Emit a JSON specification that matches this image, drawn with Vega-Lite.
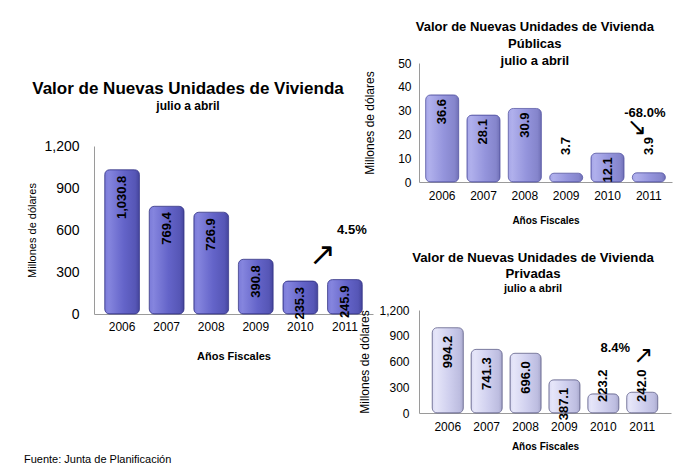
{
  "$schema": "https://vega.github.io/schema/vega-lite/v6.json",
  "background": "white",
  "padding": {"left": 23, "top": 21, "right": 2, "bottom": 4},
  "config": {
    "font": "Liberation Sans",
    "view": {"stroke": null},
    "title": {"font": "Liberation Sans", "fontWeight": "bold", "color": "black", "subtitleColor": "black", "subtitleFont": "Liberation Sans"},
    "axis": {"labelFont": "Liberation Sans", "titleFont": "Liberation Sans", "labelColor": "black", "titleColor": "black", "ticks": false, "grid": false, "domainColor": "#9a9a9a"}
  },
  "datasets": {
    "total": [
      {"year": "2006", "value": 1030.8},
      {"year": "2007", "value": 769.4},
      {"year": "2008", "value": 726.9},
      {"year": "2009", "value": 390.8},
      {"year": "2010", "value": 235.3},
      {"year": "2011", "value": 245.9}
    ],
    "publicas": [
      {"year": "2006", "value": 36.6},
      {"year": "2007", "value": 28.1},
      {"year": "2008", "value": 30.9},
      {"year": "2009", "value": 3.7},
      {"year": "2010", "value": 12.1},
      {"year": "2011", "value": 3.9}
    ],
    "privadas": [
      {"year": "2006", "value": 994.2},
      {"year": "2007", "value": 741.3},
      {"year": "2008", "value": 696.0},
      {"year": "2009", "value": 387.1},
      {"year": "2010", "value": 223.2},
      {"year": "2011", "value": 242.0}
    ]
  },
  "title": {"text": "Fuente: Junta de Planificación", "orient": "bottom", "anchor": "start", "fontWeight": "normal", "fontSize": 11, "offset": 3, "dx": -3, "frame": "bounds"},
  "hconcat": [
    {
      "spacing": 0,
      "vconcat": [
        {"width": 10, "height": 17, "data": {"values": []}, "mark": "point"},
        {
          "width": 279,
          "height": 168,
          "data": {"name": "total"},
          "title": {"text": "Valor de Nuevas Unidades de Vivienda", "subtitle": "julio a abril", "fontSize": 17, "subtitleFontSize": 12, "subtitleFontWeight": "bold", "subtitlePadding": 3, "anchor": "middle", "frame": "bounds", "offset": 26, "dx": -12},
          "encoding": {
            "x": {"field": "year", "type": "ordinal", "scale": {"paddingInner": 0.22, "paddingOuter": 0.24},
                  "axis": {"labelAngle": 0, "labelFontSize": 12, "labelPadding": 7, "title": "Años Fiscales", "titleFontSize": 11, "titleFontWeight": "bold", "titlePadding": 18}},
            "y": {"field": "value", "type": "quantitative", "scale": {"domain": [0, 1200], "nice": false},
                  "axis": {"values": [0, 300, 600, 900, 1200], "format": ",.0f", "labelFontSize": 14, "labelPadding": 15, "title": "Millones de dólares", "titleFontSize": 11, "titleFontWeight": "normal", "titlePadding": 6}}
          },
          "layer": [
            {"mark": {"type": "bar", "cornerRadius": 5, "stroke": "#3a3a8c", "strokeWidth": 0.8,
                      "fill": {"gradient": "linear", "x1": 0, "y1": 0, "x2": 1, "y2": 0, "stops": [{"offset": 0, "color": "#7b7bd9"}, {"offset": 0.12, "color": "#8585de"}, {"offset": 0.55, "color": "#6464c9"}, {"offset": 0.88, "color": "#5656b6"}, {"offset": 1, "color": "#45459c"}]}}},
            {"mark": {"type": "text", "angle": 270, "align": "right", "baseline": "middle", "dx": -6, "fontSize": 13, "fontWeight": "bold", "color": "black"},
             "encoding": {"text": {"field": "value", "type": "quantitative", "format": ",.1f"}}},
            {"data": {"values": [{"year": "2011", "value": 600, "label": "4.5%"}]},
             "mark": {"type": "text", "fontSize": 13, "fontWeight": "bold", "color": "black", "dx": 7},
             "encoding": {"text": {"field": "label"}}},
            {"data": {"values": [{"year": "2010", "value": 420, "label": "↗"}]},
             "mark": {"type": "text", "font": "DejaVu Sans", "fontSize": 32, "color": "black", "dx": 22},
             "encoding": {"text": {"field": "label"}}}
          ]
        }
      ]
    },
    {
      "spacing": 25,
      "vconcat": [
        {
          "width": 253,
          "height": 119,
          "data": {"name": "publicas"},
          "title": {"text": ["Valor de Nuevas Unidades de Vivienda", "Públicas", "julio a abril"], "fontSize": 13, "lineHeight": 17, "anchor": "middle", "frame": "bounds", "offset": -11, "dx": 17},
          "encoding": {
            "x": {"field": "year", "type": "ordinal", "scale": {"paddingInner": 0.2, "paddingOuter": 0.16},
                  "axis": {"labelAngle": 0, "labelFontSize": 12, "labelPadding": 8, "title": "Años Fiscales", "titleFontSize": 10, "titleFontWeight": "bold", "titlePadding": 14}},
            "y": {"field": "value", "type": "quantitative", "scale": {"domain": [0, 50], "nice": false},
                  "axis": {"values": [0, 10, 20, 30, 40, 50], "labelFontSize": 12, "labelPadding": 8, "title": "Millones de dólares", "titleFontSize": 12, "titleFontWeight": "normal", "titlePadding": 21}}
          },
          "layer": [
            {"mark": {"type": "bar", "cornerRadius": 5, "stroke": "#5c5ca8", "strokeWidth": 0.8,
                      "fill": {"gradient": "linear", "x1": 0, "y1": 0, "x2": 1, "y2": 0, "stops": [{"offset": 0, "color": "#a6a6e8"}, {"offset": 0.12, "color": "#b0b0ec"}, {"offset": 0.55, "color": "#9494dc"}, {"offset": 0.88, "color": "#8585cc"}, {"offset": 1, "color": "#7070b6"}]}}},
            {"transform": [{"filter": "datum.value >= 10"}],
             "mark": {"type": "text", "angle": 270, "align": "right", "baseline": "middle", "dx": -4, "fontSize": 13, "fontWeight": "bold", "color": "black"},
             "encoding": {"text": {"field": "value", "type": "quantitative", "format": ",.1f"}}},
            {"transform": [{"filter": "datum.value < 10"}],
             "mark": {"type": "text", "angle": 270, "align": "left", "baseline": "middle", "dx": 27, "fontSize": 13, "fontWeight": "bold", "color": "black"},
             "encoding": {"y": {"datum": 0}, "text": {"field": "value", "type": "quantitative", "format": ",.1f"}}},
            {"data": {"values": [{"year": "2011", "value": 29, "label": "-68.0%"}]},
             "mark": {"type": "text", "fontSize": 13, "fontWeight": "bold", "color": "black", "dx": -4},
             "encoding": {"text": {"field": "label"}}},
            {"data": {"values": [{"year": "2011", "value": 22.5, "label": "↘"}]},
             "mark": {"type": "text", "font": "DejaVu Sans", "fontSize": 24, "color": "black", "dx": -12},
             "encoding": {"text": {"field": "label"}}}
          ]
        },
        {
          "width": 252,
          "height": 103,
          "data": {"name": "privadas"},
          "title": {"text": ["Valor de Nuevas Unidades de Vivienda", "Privadas"], "subtitle": "julio a abril", "fontSize": 13.2, "lineHeight": 16, "subtitleFontSize": 11, "subtitleFontWeight": "bold", "subtitlePadding": 2, "anchor": "middle", "frame": "bounds", "offset": 9, "dx": 18},
          "encoding": {
            "x": {"field": "year", "type": "ordinal", "scale": {"paddingInner": 0.2, "paddingOuter": 0.34},
                  "axis": {"labelAngle": 0, "labelFontSize": 12, "labelPadding": 8, "title": "Años Fiscales", "titleFontSize": 10, "titleFontWeight": "bold", "titlePadding": 9}},
            "y": {"field": "value", "type": "quantitative", "scale": {"domain": [0, 1200], "nice": false},
                  "axis": {"values": [0, 300, 600, 900, 1200], "format": ",.0f", "labelFontSize": 12, "labelPadding": 10, "title": "Millones de dólares", "titleFontSize": 12, "titleFontWeight": "normal", "titlePadding": 7}}
          },
          "layer": [
            {"mark": {"type": "bar", "cornerRadius": 5, "stroke": "#6e6e96", "strokeWidth": 0.8,
                      "fill": {"gradient": "linear", "x1": 0, "y1": 0, "x2": 1, "y2": 0, "stops": [{"offset": 0, "color": "#dcdcf5"}, {"offset": 0.12, "color": "#e6e6f9"}, {"offset": 0.55, "color": "#cfcfee"}, {"offset": 0.88, "color": "#bdbde0"}, {"offset": 1, "color": "#a8a8cc"}]}}},
            {"transform": [{"filter": "datum.value >= 300"}],
             "mark": {"type": "text", "angle": 270, "align": "right", "baseline": "middle", "dx": -8, "fontSize": 13, "fontWeight": "bold", "color": "black"},
             "encoding": {"text": {"field": "value", "type": "quantitative", "format": ",.1f"}}},
            {"transform": [{"filter": "datum.value < 300"}],
             "mark": {"type": "text", "angle": 270, "align": "left", "baseline": "middle", "dx": 11, "fontSize": 13, "fontWeight": "bold", "color": "black"},
             "encoding": {"y": {"datum": 0}, "text": {"field": "value", "type": "quantitative", "format": ",.1f"}}},
            {"data": {"values": [{"year": "2010", "value": 757, "label": "8.4%"}]},
             "mark": {"type": "text", "fontSize": 13, "fontWeight": "bold", "color": "black", "dx": 12},
             "encoding": {"text": {"field": "label"}}},
            {"data": {"values": [{"year": "2011", "value": 660, "label": "↗"}]},
             "mark": {"type": "text", "font": "DejaVu Sans", "fontSize": 24, "color": "black", "dx": 1},
             "encoding": {"text": {"field": "label"}}}
          ]
        }
      ]
    }
  ],
  "spacing": -15
}
